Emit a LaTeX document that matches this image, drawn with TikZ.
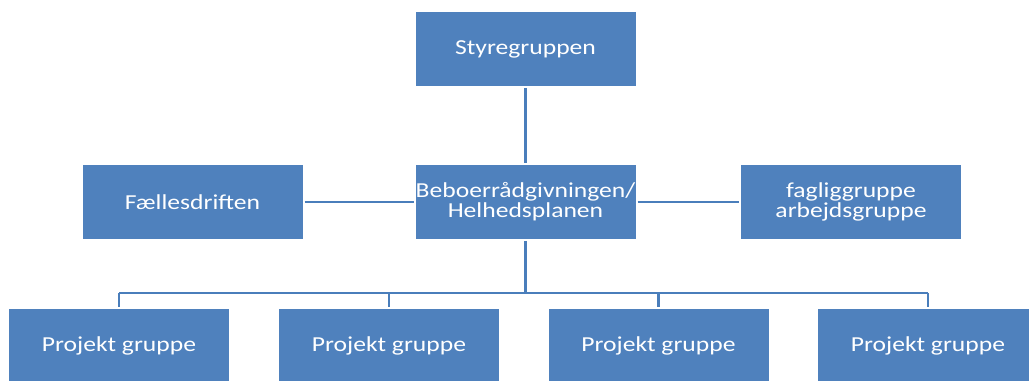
\documentclass[tikz,border=0pt]{standalone}
\usepackage{fontspec}
\setmainfont{Carlito}[FakeStretch=1.2]
\usetikzlibrary{positioning}
\definecolor{boxblue}{HTML}{4F81BD}
\definecolor{lineblue}{HTML}{4A7EBB}

\begin{document}
\begin{tikzpicture}[x=0.75pt, y=-0.75pt,
	box/.style={fill=boxblue, text=white, font=\fontsize{16}{15}\selectfont,
		minimum width=165pt, minimum height=55.5pt, align=center, inner sep=0pt, outer sep=1.5pt},
	link/.style={draw=lineblue, line width=2pt}]
	\useasboundingbox (0, 0) rectangle (1029, 381);
	\clip (0, 0) rectangle (1029, 381);
	%
	\node[box] (styre) at (525.5, 49) {Styregruppen};
	\node[box] (midt) at (525.5, 202) {Beboerrådgivningen/\\Helhedsplanen};
	\node[box] (faelles) at (192.5, 202) {Fællesdriften};
	\node[box] (faglig) at (851, 202) {fagliggruppe\\arbejdsgruppe};
	\node[box] (p1) at (119, 346) {Projekt gruppe};
	\node[box] (p2) at (389, 346) {Projekt gruppe};
	\node[box] (p3) at (658.5, 346) {Projekt gruppe};
	\node[box] (p4) at (928, 346) {Projekt gruppe};
	\coordinate (bus) at (0, 293);
	%
	\draw[link] (styre) -- (midt);
	\draw[link] (faelles) -- (midt);
	\draw[link] (midt) -- (faglig);
	\draw[link] (midt) -- (midt |- bus);
	\draw[link] (p1 |- bus) -- (p4 |- bus);
	\foreach \i in {1,...,4}
		\draw[link] (p\i |- bus) -- (p\i);
\end{tikzpicture}
\end{document}
